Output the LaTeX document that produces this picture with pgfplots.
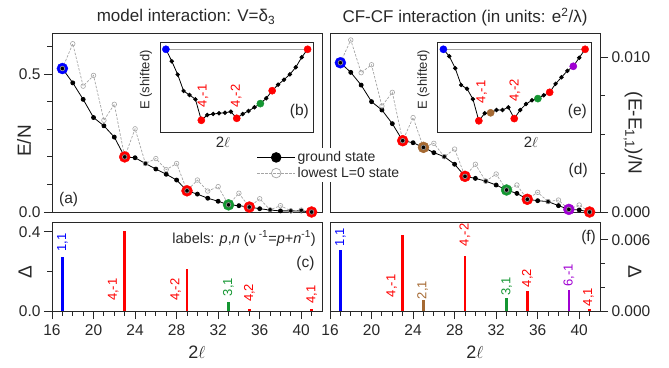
\documentclass[border=0pt]{standalone}
\usepackage{pgfplots}
\pgfplotsset{compat=1.18}
\usepackage{fontspec}
\setmainfont{Liberation Sans}
\definecolor{myblue}{RGB}{0,0,255}
\definecolor{myred}{RGB}{255,0,0}
\definecolor{mygreen}{RGB}{20,150,50}
\definecolor{mybrown}{RGB}{165,105,50}
\definecolor{mypurple}{RGB}{160,0,210}
\definecolor{txt}{RGB}{40,40,40}
\definecolor{lgray}{RGB}{165,165,165}

\pgfplotstableread{
x gs l0
17 0.521 0.521
18 0.469 0.611
19 0.409 0.457
20 0.343 0.496
21 0.313 0.333
22 0.272 0.391
23 0.200 0.200
24 0.197 0.302
25 0.176 0.176
26 0.156 0.194
27 0.137 0.154
28 0.116 0.176
29 0.077 0.077
30 0.065 0.116
31 0.050 0.076
32 0.039 0.092
33 0.026 0.026
34 0.023 0.068
35 0.018 0.018
36 0.012 0.048
37 0.007 0.008
38 0.004 0.023
39 0.004 0.004
40 0.004 0.007
41 0.000 0.000
}\tabA

\pgfplotstableread{
x gs l0
17 0.00963 0.00963
18 0.00901 0.0111
19 0.00819 0.00899
20 0.00712 0.0095
21 0.00658 0.00684
22 0.00570 0.00772
23 0.00460 0.00460
24 0.00447 0.00609
25 0.00417 0.00417
26 0.00383 0.00443
27 0.00357 0.00357
28 0.00308 0.00406
29 0.00230 0.00230
30 0.00217 0.00308
31 0.00199 0.00199
32 0.00174 0.00245
33 0.00142 0.00142
34 0.00120 0.00174
35 0.00082 0.00082
36 0.00073 0.00127
37 0.00067 0.00067
38 0.00041 0.00077
39 0.00017 0.00017
40 0.00013 0.00045
41 0.00000 0.00000
}\tabD

\pgfplotstableread{
x b e
17 0 0
18 -12 -7
19 -25.3 -19
20 -41.7 -35.7
21 -45.7 -39.5
22 -50 -49.8
23 -71 -71.5
24 -65.7 -64
25 -64.7 -63.5
26 -64 -60.7
27 -63.4 -60.7
28 -62.4 -58
29 -69 -69.3
30 -64.7 -60.7
31 -61.7 -54.7
32 -58 -51
33 -54.3 -49.3
34 -49 -46
35 -41.4 -43
36 -35.4 -34.5
37 -30.4 -28
38 -25 -21.5
39 -18 -17
40 -8 -8.5
41 0 0
}\tabIn

\pgfplotsset{
  base/.style={scale only axis, clip=false,
    axis line style={txt,line width=0.9pt},
    every tick/.style={txt, line width=0.9pt},
    tick align=outside, major tick length=8pt, minor tick length=4.5pt,
    xmin=16, xmax=42,
    tick label style={font=\fontsize{15.5}{17}\selectfont, text=txt},
    xticklabel style={yshift=-2pt},
    /pgf/number format/assume math mode=true,
    scaled y ticks=false, scaled x ticks=false},
  topp/.style={base, width=270pt, height=179pt, xtick=\empty, ymin=0},
  bot/.style={base, width=270pt, height=89pt, xtick={16,20,...,40},
    xticklabels={16,20,24,28,32,36,40}, minor xtick={17,...,41}, xtick pos=bottom, ymin=0},
  inset/.style={scale only axis, clip=false, width=153.5pt, height=89.3pt,
    xmin=16, xmax=42, ymin=-82.7, ymax=6.6, xtick=\empty, ytick=\empty,
    axis line style={txt, line width=0.9pt}, axis background/.style={fill=white}},
  gsline/.style={black, line width=0.8pt, mark=*, mark size=2pt},
  l0line/.style={lgray, line width=0.7pt, dash pattern=on 2.5pt off 1.5pt, mark=o, mark size=2.3pt, mark options={solid, line width=0.6pt}},
  big/.style={only marks, mark=*, mark size=5.5pt},
  ibig/.style={only marks, mark=*, mark size=3.6pt},
}
\tikzset{
  blab/.style={rotate=90, anchor=west, inner sep=0pt, font=\fontsize{13}{14}\selectfont},
  ilab/.style={rotate=90, anchor=west, inner sep=0pt, font=\fontsize{13}{14}\selectfont, text=myred},
  plab/.style={font=\fontsize{15.5}{17}\selectfont, text=txt},
}

\begin{document}
\begin{tikzpicture}[x=1pt,y=1pt]
\path[use as bounding box] (0,0) rectangle (669,367);

% (d)
\begin{axis}[topp, at={(330pt,155pt)}, anchor=south west, ymax=0.01155,
  ytick={0,0.01}, yticklabels={0.000,0.010}, minor ytick={0.0025,0.005,0.0075},
  ytick pos=right, yticklabel pos=right]
\addplot[big, myblue] coordinates {(17,0.00963)};
\addplot[big, myred] coordinates {(23,0.0046) (29,0.0023) (35,0.00082) (41,0)};
\addplot[big, mybrown] coordinates {(25,0.00417)};
\addplot[big, mygreen] coordinates {(33,0.00142)};
\addplot[big, mypurple] coordinates {(39,0.00017)};
\addplot[gsline] table[x=x,y=gs] {\tabD};
\addplot[l0line] table[x=x,y=l0] {\tabD};
\node[plab] at (axis cs:39.9,0.0027) {(d)};
\end{axis}

% (e)
\begin{axis}[inset, at={(437.5pt,235pt)}, anchor=south west]
\draw[lgray, line width=0.8pt] (axis cs:17,0) -- (axis cs:41,0);
\addplot[black, line width=0.8pt, mark=*, mark size=1.8pt] table[x=x,y=e] {\tabIn};
\addplot[ibig, myblue] coordinates {(17,0)};
\addplot[ibig, myred] coordinates {(23,-71.5) (29,-69.3) (35,-43) (41,0)};
\addplot[ibig, mybrown] coordinates {(25,-63.5)};
\addplot[ibig, mygreen] coordinates {(33,-49.3)};
\addplot[ibig, mypurple] coordinates {(39,-17)};
\node[ilab] at (axis cs:23.5,-54) {4,-1};
\node[ilab] at (axis cs:29.1,-52.4) {4,-2};
\node[plab] at (axis cs:39.7,-62.5) {(e)};
\end{axis}

% (a)
\begin{axis}[topp, at={(52pt,155pt)}, anchor=south west, ymax=0.65,
  ytick={0,0.5}, yticklabels={0.0,0.5}, minor ytick={0.1,0.2,0.3,0.4,0.6},
  ytick pos=left,
  legend style={at={(0.752,0.358)}, anchor=north west, draw=none, fill=white,
    font=\fontsize{14}{16}\selectfont, text=txt, inner sep=1.5pt, cells={anchor=west}, row sep=0pt},
  legend image code/.code={\draw[mark repeat=2, mark phase=2, #1] plot coordinates {(0pt,0pt) (19pt,0pt) (38pt,0pt)};}]
\addlegendimage{black, line width=0.9pt, mark=*, mark size=4.8pt}
\addlegendentry{ground state}
\addlegendimage{lgray, line width=0.7pt, dash pattern=on 2.5pt off 1.5pt, mark=o, mark size=4.8pt, mark options={solid}}
\addlegendentry{lowest L=0 state}
\addplot[big, myblue, forget plot] coordinates {(17,0.521)};
\addplot[big, myred, forget plot] coordinates {(23,0.200) (29,0.077) (35,0.018) (41,0)};
\addplot[big, mygreen, forget plot] coordinates {(33,0.026)};
\addplot[gsline, forget plot] table[x=x,y=gs] {\tabA};
\addplot[l0line, forget plot] table[x=x,y=l0] {\tabA};
\node[plab] at (axis cs:17.6,0.044) {(a)};
\end{axis}

% (b)
\begin{axis}[inset, at={(160pt,235pt)}, anchor=south west]
\draw[lgray, line width=0.8pt] (axis cs:17,0) -- (axis cs:41,0);
\addplot[black, line width=0.8pt, mark=*, mark size=1.8pt] table[x=x,y=b] {\tabIn};
\addplot[ibig, myblue] coordinates {(17,0)};
\addplot[ibig, myred] coordinates {(23,-71) (29,-69) (35,-41.4) (41,0)};
\addplot[ibig, mygreen] coordinates {(33,-54.3)};
\node[ilab] at (axis cs:23.3,-58) {4,-1};
\node[ilab] at (axis cs:28.9,-58) {4,-2};
\node[plab] at (axis cs:39.6,-62.5) {(b)};
\end{axis}

% (c)
\begin{axis}[bot, at={(52pt,56pt)}, anchor=south west, ymax=0.45,
  ytick={0,0.4}, yticklabels={0.0,0.4}, minor ytick={0.2}, ytick pos=left]
\addplot[ycomb, myblue, line width=2.6pt] coordinates {(17,0.274)};
\addplot[ycomb, myred, line width=2.6pt] coordinates {(23,0.403) (29,0.212) (35,0.008) (41,0.012)};
\addplot[ycomb, mygreen, line width=2.6pt] coordinates {(33,0.047)};
\node[blab, text=myblue] at (axis cs:17,0.300) {1,1};
\node[blab, text=myred] at (axis cs:21.9,0.050) {4,-1};
\node[blab, text=myred] at (axis cs:27.9,0.050) {4,-2};
\node[blab, text=mygreen] at (axis cs:33,0.074) {3,1};
\node[blab, text=myred] at (axis cs:35,0.045) {4,2};
\node[blab, text=myred] at (axis cs:41,0.038) {4,1};
\node[font=\fontsize{14.5}{16}\selectfont, text=txt] at (axis cs:34.5,0.367) {labels: \textit{p},\textit{n} (ν\textsuperscript{ -1}=\textit{p}+\textit{n}\textsuperscript{-1})};
\node[plab] at (axis cs:40.4,0.24) {(c)};
\end{axis}

% (f)
\begin{axis}[bot, at={(330pt,56pt)}, anchor=south west, ymax=0.0075,
  ytick={0,0.006}, yticklabels={0.000,0.006}, minor ytick={0.002,0.004},
  ytick pos=right, yticklabel pos=right]
\addplot[ycomb, myblue, line width=2.6pt] coordinates {(17,0.0051)};
\addplot[ycomb, myred, line width=2.6pt] coordinates {(23,0.00642) (29,0.00465) (35,0.00172) (41,0.00017)};
\addplot[ycomb, mybrown, line width=2.6pt] coordinates {(25,0.00093)};
\addplot[ycomb, mygreen, line width=2.6pt] coordinates {(33,0.00107)};
\addplot[ycomb, mypurple, line width=2.6pt] coordinates {(39,0.00177)};
\node[blab, text=myblue] at (axis cs:17,0.00545) {1,1};
\node[blab, text=myred] at (axis cs:21.94,0.00115) {4,-1};
\node[blab, text=mybrown] at (axis cs:24.93,0.00098) {2,1};
\node[blab, text=myred] at (axis cs:29,0.00545) {4,-2};
\node[blab, text=mygreen] at (axis cs:33,0.0013) {3,1};
\node[blab, text=myred] at (axis cs:35,0.002) {4,2};
\node[blab, text=mypurple] at (axis cs:39,0.00205) {6,-1};
\node[blab, text=myred] at (axis cs:40.9,0.0004) {4,1};
\node[plab] at (axis cs:40.9,0.0062) {(f)};
\end{axis}

% titles and labels
\node[font=\fontsize{17}{20}\selectfont, text=txt] at (186,350) {model interaction: V=δ\textsubscript{3}};
\node[font=\fontsize{17}{20}\selectfont, text=txt] at (465,350) {CF-CF interaction (in units: e\textsuperscript{2}/λ)};
\node[font=\fontsize{19}{21}\selectfont, text=txt, rotate=90] at (24,226) {E/N};
\node[font=\fontsize{19}{21}\selectfont, text=txt, rotate=90] at (25,95.3) {Δ};
\node[font=\fontsize{19}{21}\selectfont, text=txt, rotate=-90] at (633,234) {(E-E\textsubscript{1,1})/N};
\node[font=\fontsize{19}{21}\selectfont, text=txt, rotate=-90] at (635,95.3) {Δ};
\node[font=\fontsize{18}{20}\selectfont, text=txt] at (197,15) {2$\ell$};
\node[font=\fontsize{18}{20}\selectfont, text=txt] at (475,15) {2$\ell$};
\node[font=\fontsize{13}{15}\selectfont, text=txt, rotate=90] at (146,287) {E (shifted)};
\node[font=\fontsize{13}{15}\selectfont, text=txt, rotate=90] at (423.5,287) {E (shifted)};
\node[font=\fontsize{15}{17}\selectfont, text=txt] at (223,225) {2$\ell$};
\node[font=\fontsize{15}{17}\selectfont, text=txt] at (531,225) {2$\ell$};
\end{tikzpicture}
\end{document}
